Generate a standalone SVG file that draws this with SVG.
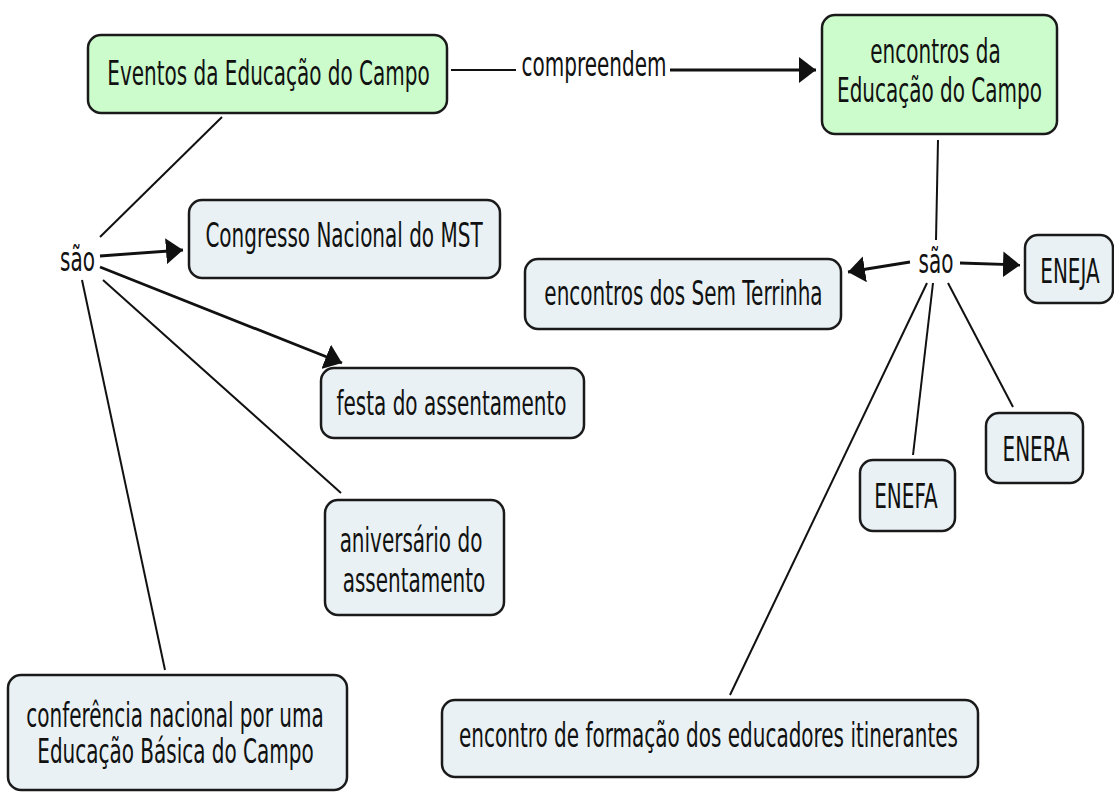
<svg xmlns="http://www.w3.org/2000/svg" width="1114" height="792" viewBox="0 0 1114 792">
<style>
.node rect{fill:#e9f1f4;stroke:#1a1a1a;stroke-width:2.5}
.node.green rect{fill:#ccfccc}
text{font-family:"DejaVu Sans","Liberation Sans",sans-serif;font-size:20px;fill:#111;text-anchor:middle}
.c line{stroke:#111;stroke-width:2}
.c line.a{stroke-width:2.8}
</style>
<defs>
<marker id="ah" viewBox="0 0 17 26" refX="17" refY="13" markerWidth="17" markerHeight="26" markerUnits="userSpaceOnUse" orient="auto">
<path d="M0,0 L17,13 L0,26 Z" fill="#111"/>
</marker>
</defs>
<rect width="1114" height="792" fill="#fff"/>
<g class="c" id="connectors">
<line x1="451" y1="70" x2="516" y2="70"/>
<line class="a" x1="670" y1="70" x2="816" y2="70" marker-end="url(#ah)"/>
<line x1="222" y1="117" x2="100" y2="237"/>
<line class="a" x1="100" y1="256" x2="183" y2="250" marker-end="url(#ah)"/>
<line class="a" x1="100" y1="267" x2="342" y2="363" marker-end="url(#ah)"/>
<line x1="103" y1="280" x2="341" y2="493"/>
<line x1="82" y1="280" x2="165" y2="670"/>
<line x1="938" y1="140" x2="936" y2="240"/>
<line class="a" x1="910" y1="262" x2="848" y2="272" marker-end="url(#ah)"/>
<line class="a" x1="960" y1="263" x2="1020" y2="265" marker-end="url(#ah)"/>
<line x1="933" y1="283" x2="913" y2="455"/>
<line x1="948" y1="283" x2="1013" y2="407"/>
<line x1="927" y1="283" x2="730" y2="695"/>
<text x="594" y="76" transform="matrix(1 0 0 1.65 0 -49.4)">compreendem</text>
<text x="77.5" y="271" transform="matrix(1 0 0 1.65 0 -176.15)">são</text>
<text x="936" y="273" transform="matrix(1 0 0 1.65 0 -177.45)">são</text>
</g>
<g class="node green" id="n-eventos">
<rect x="88" y="35" width="359" height="78" rx="13"/>
<text x="268.5" y="85" transform="matrix(1 0 0 1.65 0 -55.25)">Eventos da Educação do Campo</text>
</g>
<g class="node green" id="n-encontros-educacao">
<rect x="822" y="15" width="235" height="119" rx="13"/>
<text x="935.5" y="63" transform="matrix(1 0 0 1.65 0 -40.95)">encontros da</text>
<text x="939.5" y="102" transform="matrix(1 0 0 1.65 0 -66.3)">Educação do Campo</text>
</g>
<g class="node" id="n-congresso">
<rect x="189" y="200" width="311" height="78" rx="13"/>
<text x="344" y="247" transform="matrix(1 0 0 1.65 0 -160.55)">Congresso Nacional do MST</text>
</g>
<g class="node" id="n-festa">
<rect x="321" y="368" width="263" height="70" rx="13"/>
<text x="451.5" y="415" transform="matrix(1 0 0 1.65 0 -269.75)">festa do assentamento</text>
</g>
<g class="node" id="n-aniversario">
<rect x="325" y="500" width="179" height="115" rx="13"/>
<text x="411" y="552" transform="matrix(1 0 0 1.65 0 -358.8)">aniversário do</text>
<text x="414" y="592" transform="matrix(1 0 0 1.65 0 -384.8)">assentamento</text>
</g>
<g class="node" id="n-conferencia">
<rect x="8" y="675" width="339" height="115" rx="13"/>
<text x="175" y="727" transform="matrix(1 0 0 1.65 0 -472.55)">conferência nacional por uma</text>
<text x="175.5" y="763" transform="matrix(1 0 0 1.65 0 -495.95)">Educação Básica do Campo</text>
</g>
<g class="node" id="n-sem-terrinha">
<rect x="525" y="259" width="316" height="70" rx="13"/>
<text x="683.5" y="305" transform="matrix(1 0 0 1.65 0 -198.25)">encontros dos Sem Terrinha</text>
</g>
<g class="node" id="n-eneja">
<rect x="1025" y="235" width="88" height="68" rx="13"/>
<text x="1070" y="283" transform="matrix(1 0 0 1.65 0 -183.95)">ENEJA</text>
</g>
<g class="node" id="n-enera">
<rect x="986" y="413" width="97" height="70" rx="13"/>
<text x="1036" y="461" transform="matrix(1 0 0 1.65 0 -299.65)">ENERA</text>
</g>
<g class="node" id="n-enefa">
<rect x="860" y="460" width="95" height="71" rx="13"/>
<text x="906" y="508" transform="matrix(1 0 0 1.65 0 -330.2)">ENEFA</text>
</g>
<g class="node" id="n-itinerantes">
<rect x="442" y="700" width="536" height="77" rx="13"/>
<text x="708.5" y="747" transform="matrix(1 0 0 1.65 0 -485.55)">encontro de formação dos educadores itinerantes</text>
</g>
</svg>
